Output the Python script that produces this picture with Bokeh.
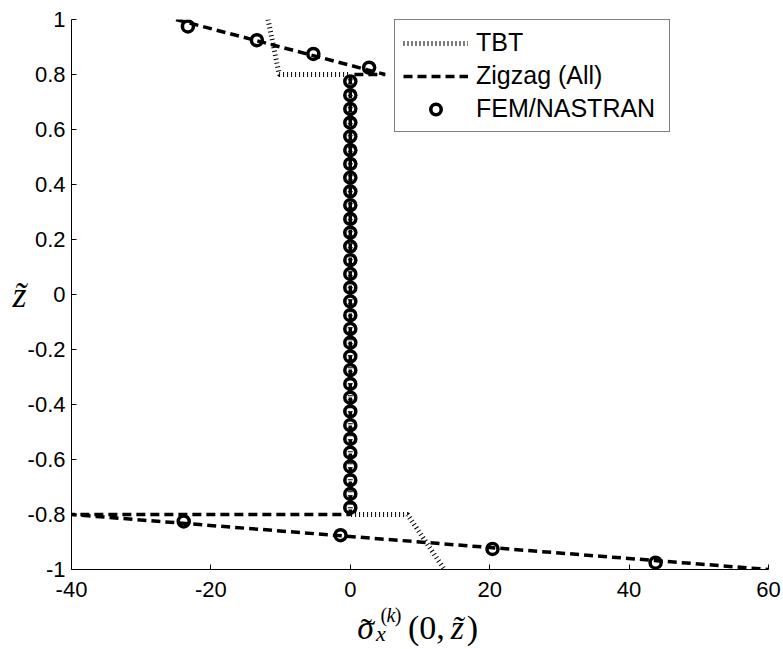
from bokeh.plotting import figure
from bokeh.models import FixedTicker, Legend, LegendItem, Range1d
from bokeh.layouts import column
from bokeh.core.properties import value
from bokeh.embed import file_html
from bokeh.resources import INLINE

# --- data ---
tbt_x = [-11.8, -10.2, 0, 0, 8.2, 13.5]
tbt_z = [1.0, 0.8, 0.8, -0.8, -0.8, -1.0]

zig_x = [-25, 5, 0, 0, -40, 60]
zig_z = [1.0, 0.8, 0.8, -0.8, -0.8, -1.0]

fem_x = [-23.3, -13.4, -5.3, 2.7,
         0, 0, 0, 0, 0, 0, 0, 0, 0, 0, 0, 0, 0, 0, 0, 0,
         0, 0, 0, 0, 0, 0, 0, 0, 0, 0, 0, 0, 0, 0, 0, 0,
         -23.9, -1.4, 20.4, 43.8]
fem_z = [0.975, 0.925, 0.875, 0.825,
         0.775, 0.725, 0.675, 0.625, 0.575, 0.525, 0.475, 0.425,
         0.375, 0.325, 0.275, 0.225, 0.175, 0.125, 0.075, 0.025,
         -0.025, -0.075, -0.125, -0.175, -0.225, -0.275, -0.325, -0.375,
         -0.425, -0.475, -0.525, -0.575, -0.625, -0.675, -0.725, -0.775,
         -0.825, -0.875, -0.925, -0.975]

x_ticks = [-40, -20, 0, 20, 40, 60]
x_tick_labels = ["-40", "-20", "0", "20", "40", "60"]
y_ticks = [-1, -0.8, -0.6, -0.4, -0.2, 0, 0.2, 0.4, 0.6, 0.8, 1]
y_tick_labels = ["-1", "-0.8", "-0.6", "-0.4", "-0.2", "0", "0.2", "0.4", "0.6", "0.8", "1"]

p = figure(width=783, height=600, output_backend="svg", toolbar_location=None,
           x_range=Range1d(-40, 60), y_range=Range1d(-1, 1),
           min_border_left=71, min_border_top=19, min_border_right=15, min_border_bottom=31)
p.outline_line_color = None
p.background_fill_color = "white"
p.border_fill_color = "white"
p.xgrid.visible = False
p.ygrid.visible = False

tbt = p.line(tbt_x, tbt_z, line_color="black", line_width=5, line_dash="1 3")
zig = p.line(zig_x, zig_z, line_color="black", line_width=3.5, line_dash="9 5")
fem = p.scatter(fem_x, fem_z, marker="circle", size=11, line_color="black",
                line_width=3.5, fill_color=None)

for ax in (p.xaxis[0], p.yaxis[0]):
    ax.major_tick_in = 5
    ax.major_tick_out = 0
    ax.minor_tick_line_color = None
    ax.axis_line_color = "black"
    ax.major_tick_line_color = "black"
    ax.major_label_text_font = "Liberation Sans"
    ax.major_label_text_font_size = "22px"
    ax.major_label_text_color = "black"

p.xaxis.ticker = FixedTicker(ticks=x_ticks)
p.xaxis.major_label_overrides = {t: l for t, l in zip(x_ticks, x_tick_labels)}
p.yaxis.ticker = FixedTicker(ticks=y_ticks)
p.yaxis.major_label_overrides = {t: l for t, l in zip(y_ticks, y_tick_labels)}
p.xaxis.major_label_standoff = 12
p.yaxis.major_label_standoff = 6

p.yaxis.axis_label = "z̃"
p.yaxis.axis_label_orientation = "horizontal"
p.yaxis.axis_label_text_font = "Liberation Serif"
p.yaxis.axis_label_text_font_style = "italic"
p.yaxis.axis_label_text_font_size = "36px"
p.yaxis.axis_label_text_color = "black"
p.yaxis.axis_label_standoff = -2

legend = Legend(items=[
    LegendItem(label="TBT", renderers=[tbt]),
    LegendItem(label="Zigzag (All)", renderers=[zig]),
    LegendItem(label="FEM/NASTRAN", renderers=[fem]),
], location=(323, 437))
legend.label_text_font = "Liberation Sans"
legend.label_text_font_size = "25px"
legend.label_text_color = "black"
legend.border_line_color = "black"
legend.border_line_width = 1
legend.background_fill_color = "white"
legend.background_fill_alpha = 1
legend.glyph_width = 65
legend.glyph_height = 26
legend.label_height = 26
legend.label_width = 185
legend.label_standoff = 8
legend.spacing = 4
legend.padding = 8
legend.margin = 0
p.add_layout(legend)

# x-axis title, composed of text pieces in a strip below the chart (pixel units)
t = figure(width=783, height=49, output_backend="svg", toolbar_location=None,
           x_range=Range1d(0, 783), y_range=Range1d(0, 49),
           x_axis_location=None, y_axis_location=None,
           min_border_left=0, min_border_right=0, min_border_top=0, min_border_bottom=0)
t.grid.visible = False
t.outline_line_color = None
t.background_fill_color = "white"
t.border_fill_color = "white"

pieces = [
    # text, x, y, size, style
    ("σ", 321, 22, "34px", "italic"),
    ("˜", 325, 19, "34px", "normal"),
    ("x", 342, 16, "22px", "italic"),
    ("(", 347, 35, "20px", "normal"),
    ("k", 354, 35, "20px", "italic"),
    (")", 363, 35, "20px", "normal"),
    ("(0,", 378, 22, "34px", "normal"),
    ("z̃", 426, 22, "34px", "italic"),
    (")", 444, 22, "34px", "normal"),
]
for txt, xs, ys, fs, st in pieces:
    t.text(x=[xs], y=[ys], text=[txt], text_font=value("Liberation Serif"),
           text_font_size=fs, text_font_style=st, text_color="black",
           text_baseline="alphabetic", text_align="left")

layout = column(p, t, spacing=0)
open("out.html", "w").write(file_html(layout, INLINE))
